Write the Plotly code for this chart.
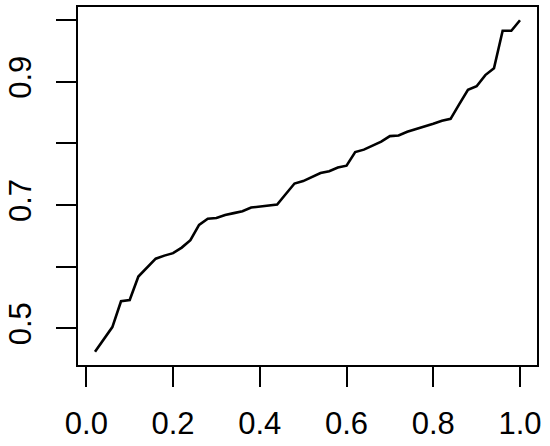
import plotly.graph_objects as go

x_vals = [round(0.02 * i, 2) for i in range(1, 51)]
y_vals = [0.462, 0.483, 0.502, 0.544, 0.546, 0.584, 0.599, 0.613, 0.618, 0.622,
          0.631, 0.643, 0.668, 0.678, 0.679, 0.684, 0.687, 0.690, 0.696, 0.698,
          0.700, 0.701, 0.718, 0.735, 0.739, 0.745, 0.752, 0.755, 0.761, 0.764,
          0.786, 0.790, 0.796, 0.803, 0.812, 0.813, 0.819, 0.823, 0.827, 0.832,
          0.837, 0.840, 0.864, 0.887, 0.893, 0.911, 0.922, 0.983, 0.983, 1.000]

x_ticks = [0.0, 0.2, 0.4, 0.6, 0.8, 1.0]
x_ticktext = ["0.0", "0.2", "0.4", "0.6", "0.8", "1.0"]
y_ticks = [0.5, 0.6, 0.7, 0.8, 0.9, 1.0]
y_ticktext = ["0.5", "", "0.7", "", "0.9", ""]


def r_range(v):
    lo, hi = min(v), max(v)
    e = 0.04 * (hi - lo)
    return [lo - e, hi + e]


fig = go.Figure()
fig.add_trace(go.Scatter(x=x_vals, y=y_vals, mode="lines",
                         line=dict(color="black", width=2.6),
                         showlegend=False, hoverinfo="skip"))

font = dict(family="Liberation Sans, Arial, sans-serif", size=31, color="black")
fig.update_layout(
    width=550, height=446, autosize=False,
    margin=dict(l=78, r=13, t=7, b=81, autoexpand=False),
    paper_bgcolor="white", plot_bgcolor="white",
    font=font,
    xaxis=dict(range=r_range(x_vals), tickvals=x_ticks, ticktext=x_ticktext,
               showgrid=False, zeroline=False, showline=True, mirror=True,
               linecolor="black", linewidth=2, ticks="outside", ticklen=20,
               tickwidth=2, tickcolor="black", tickfont=font,
               ticklabelstandoff=10, automargin=False),
    yaxis=dict(range=r_range(y_vals), tickvals=y_ticks, ticktext=y_ticktext,
               showgrid=False, zeroline=False, showline=True, mirror=True,
               linecolor="black", linewidth=2, ticks="outside", ticklen=20,
               tickwidth=2, tickcolor="black", tickfont=font, tickangle=-90,
               ticklabelstandoff=13, automargin=False),
)

fig.write_html("out.html", config={"displayModeBar": False},
               post_script="document.body.style.margin='0';document.body.style.padding='0';")
